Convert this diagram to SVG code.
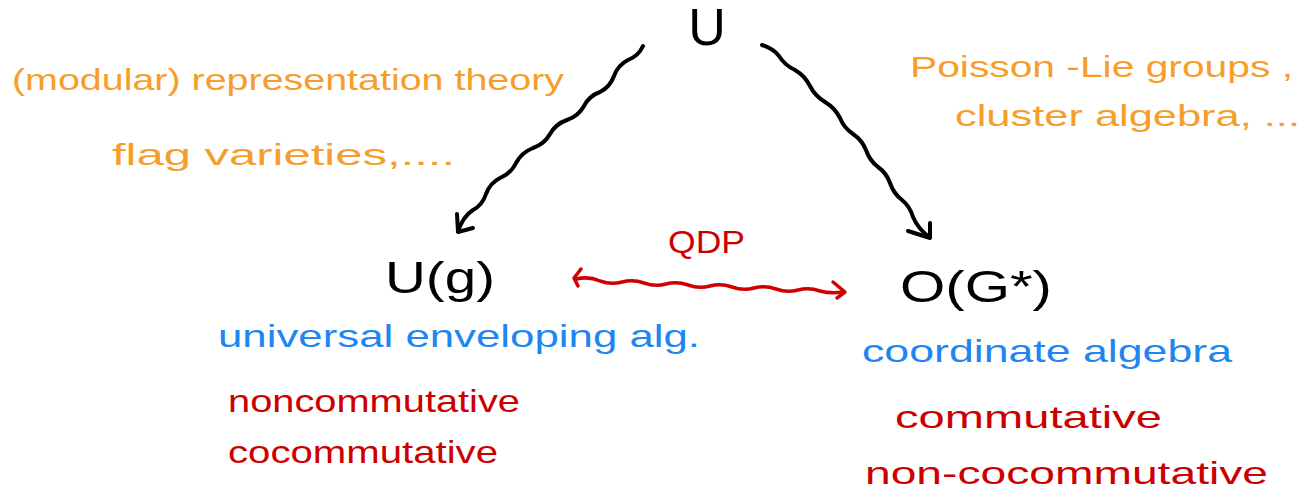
<svg xmlns="http://www.w3.org/2000/svg" width="1311" height="496" viewBox="0 0 1311 496">
<style>
text{font-family:"Liberation Sans","DejaVu Sans",sans-serif;}
.or{fill:#F59E2C;font-size:30px;}
.bl{fill:#1E86F0;font-size:32px;}
.rd{fill:#CC0000;font-size:32px;}
.bk{fill:#000;}
.w{fill:none;stroke-linecap:round;stroke-linejoin:round;}
.wk{stroke:#000;stroke-width:4;}
.wr{stroke:#D00000;stroke-width:3.5;}
</style>
<rect width="1311" height="496" fill="#fff"/>
<g id="connectors">
<path class="w wk" d="M643 46 Q638.5 56 628 60 Q618 65 614 76 Q610 87 600 92 Q589 96 584 106 Q578.5 116 567 120 Q555.5 124 550 134 Q544.5 144 533 148 Q521.5 152.5 516 163 Q511 173.5 500 178 Q490 183 486 194 Q482.5 205 473 210 Q463.5 216 458 231"/>
<path class="w wk" d="M457 214 L458 232 L473 228"/>
<path class="w wk" d="M762 45 Q773 48.5 779 56 Q784.5 65 795 70 Q805 76 810 86 Q815 96 825 102 Q835 108 840 118 Q844 128 853 134 Q862 140 866 150 Q869.5 160.5 878 167 Q886.5 173 890 183 Q893.5 193.5 902 200 Q910 206.5 913 217 Q918 228.5 929 237"/>
<path class="w wk" d="M908 231 L930 238 L930 223"/>
<path class="w wr" d="M576 279 Q589 276 600 281 Q611 285 622 282 Q633 279 644 283 Q655 287 666 284 Q677 281 688 285 Q699 289 710 286 Q721 283 732 287 Q743 291 754 288 Q765 285 776 289 Q787 293 798 290 Q809 287 820 291 Q831 294 843 292"/>
<path class="w wr" d="M581 269 L574 278 L578 286"/>
<path class="w wr" d="M833 282 L845 292 L837 298"/>
</g>
<g id="node-U"><text class="bk" x="707" y="45" font-size="52" text-anchor="middle">U</text></g>
<g id="note-left">
<text class="or" x="12" y="90" textLength="552" lengthAdjust="spacingAndGlyphs">(modular) representation theory</text>
<text class="or" x="112" y="165" textLength="343" lengthAdjust="spacingAndGlyphs">flag varieties,....</text>
</g>
<g id="note-right">
<text class="or" x="910" y="77" textLength="383" lengthAdjust="spacingAndGlyphs">Poisson -Lie groups ,</text>
<text class="or" x="955" y="126" textLength="345" lengthAdjust="spacingAndGlyphs">cluster algebra, ...</text>
</g>
<g id="node-Ug">
<text class="bk" x="385" y="293" font-size="44" textLength="110" lengthAdjust="spacingAndGlyphs">U(g)</text>
<text class="bl" x="218" y="347" textLength="482" lengthAdjust="spacingAndGlyphs">universal enveloping alg.</text>
<text class="rd" x="228" y="412" textLength="292" lengthAdjust="spacingAndGlyphs">noncommutative</text>
<text class="rd" x="228" y="463" textLength="270" lengthAdjust="spacingAndGlyphs">cocommutative</text>
</g>
<g id="label-QDP"><text class="rd" x="668" y="253" font-size="30" textLength="77" lengthAdjust="spacingAndGlyphs">QDP</text></g>
<g id="node-OG">
<text class="bk" x="900" y="302" font-size="44" textLength="152" lengthAdjust="spacingAndGlyphs">O(G*)</text>
<text class="bl" x="862" y="362" textLength="370" lengthAdjust="spacingAndGlyphs">coordinate algebra</text>
<text class="rd" x="895" y="428" textLength="267" lengthAdjust="spacingAndGlyphs">commutative</text>
<text class="rd" x="865" y="484" textLength="403" lengthAdjust="spacingAndGlyphs">non-cocommutative</text>
</g>
</svg>
